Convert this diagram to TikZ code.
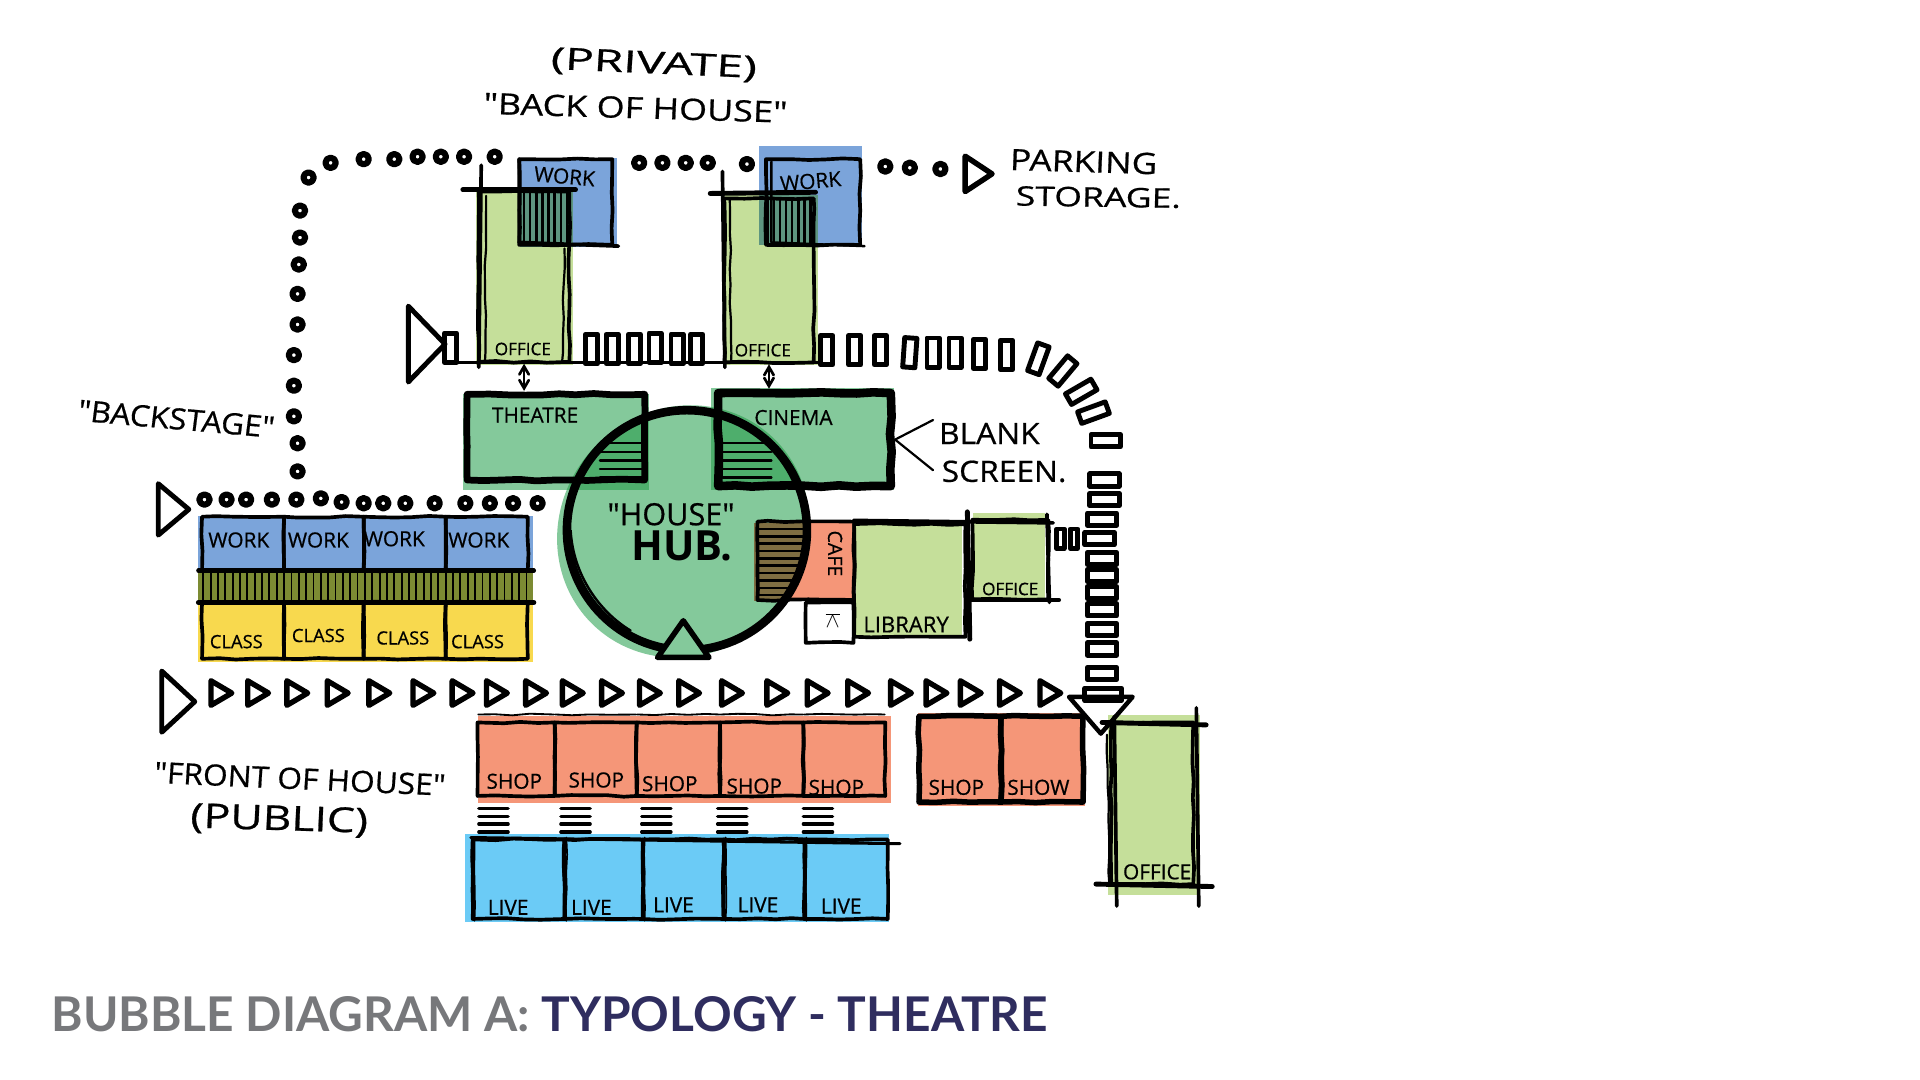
\documentclass[tikz,border=0pt]{standalone}
\usepackage{fontspec}
\setmainfont{Open Sans}
\newfontfamily\handfont[FakeBold=0.6]{Open Sans}
\newfontfamily\titlefont{Lato}
\usetikzlibrary{arrows,shapes.geometric,decorations.pathmorphing}
\definecolor{workblue}{HTML}{7BA4DA}
\definecolor{officegreen}{HTML}{C5DF9A}
\definecolor{hubgreen}{HTML}{84C99B}
\definecolor{hubdark}{HTML}{4EAE6C}
\definecolor{overlapgreen}{HTML}{5E9580}
\definecolor{shoporange}{HTML}{F59678}
\definecolor{classyellow}{HTML}{F8D94E}
\definecolor{liveblue}{HTML}{6BCBF6}
\definecolor{bandolive}{HTML}{7C8B33}
\definecolor{cafebrown}{HTML}{7F6E42}
\definecolor{titlegrey}{HTML}{77787B}
\definecolor{titlenavy}{HTML}{2F2D5F}
\begin{document}
\begin{tikzpicture}[x=1pt,y=-1pt,>=angle 60,line join=round,line cap=round]
	\pgfmathsetseed{7}
	\tikzstyle{sketch}=[decorate,decoration={random steps,segment length=14pt,amplitude=.7pt}]
	\tikzstyle{room}=[draw=black,rectangle,inner sep=0pt,line width=3pt,sketch]
	\tikzstyle{bigroom}=[room,line width=5.5pt]
	\tikzstyle{pathdot}=[draw=black,fill=white,circle,inner sep=0pt,minimum size=8.5pt,line width=5pt]
	\tikzstyle{pathtri}=[draw=black,isosceles triangle,isosceles triangle stretches,inner sep=0pt,minimum width=20pt,minimum height=17pt,line width=4.4pt]
	\tikzstyle{flowbox}=[draw=black,fill=white,rectangle,inner sep=0pt,minimum width=10pt,minimum height=24pt,line width=4pt]
	\tikzstyle{hand}=[inner sep=0pt,text=black,font=\handfont\fontsize{17}{17}\selectfont]
	\tikzstyle{note}=[hand,font=\handfont\fontsize{24}{24}\selectfont,xscale=1.2]
	\useasboundingbox (0,0) rectangle (1568,882);
	\fill[white] (0,0) rectangle (1568,882);
	% colour washes
	\fill[officegreen] (389,155) rectangle (468,298);
	\fill[officegreen] (592,159) rectangle (668,298);
	\fill[workblue] (425,129) rectangle (504,202);
	\fill[workblue] (620,119) rectangle (704,200);
	\fill[overlapgreen] (425,155) rectangle (468,202);
	\fill[overlapgreen] (620,159) rectangle (668,200);
	\fill[hubgreen] (378,322) rectangle (530,400);
	\fill[hubgreen] (581,317) rectangle (730,400);
	\fill[shoporange] (616,427) rectangle (697,491);
	\fill[hubgreen,rotate around={45:(558,434)}] (558,434) ellipse (106 and 100);
	\begin{scope}
		\clip[rotate around={45:(558,434)}] (558,434) ellipse (106 and 100);
		\fill[hubdark] (378,322) rectangle (530,400);
		\fill[hubdark] (581,317) rectangle (730,400);
		\fill[cafebrown] (616,427) rectangle (697,491);
	\end{scope}
	\fill[officegreen] (699,427) rectangle (786,520);
	\fill[officegreen] (795,419) rectangle (853,491);
	\fill[officegreen] (905,584) rectangle (980,731);
	\fill[workblue] (162,421) rectangle (435,466);
	\fill[bandolive] (162,466) rectangle (435,492);
	\fill[classyellow] (162,492) rectangle (435,541);
	\fill[shoporange] (390,585) rectangle (728,656);
	\fill[shoporange] (750,582) rectangle (886,658);
	\fill[liveblue] (380,681) rectangle (726,753);
	% hatching under the overlaps
	\begin{scope}
		\clip (561,433) ellipse (100 and 97);
		\foreach \y in {362,369,...,394} {
			\draw[line width=2pt] (490,\y) -- (527,\y);
			\draw[line width=2pt] (590,\y) -- (630,\y);
		}
		\foreach \y in {432,438,...,488}
			\draw[line width=2pt] (620,\y) -- (656,\y);
	\end{scope}
	\foreach \x in {428,433,...,466} \draw[line width=2pt] (\x,157) -- (\x,200);
	\foreach \x in {627,632,...,664} \draw[line width=2pt] (\x,162) -- (\x,200);
	\foreach \x in {166,172,...,432} \draw[line width=1.5pt] (\x,468) -- (\x,491);
	% rooms
	\node[room,minimum width=76pt,minimum height=70pt] (work1) at (462,165) {};
	\node[room,minimum width=77pt,minimum height=70pt] (work2) at (664,165) {};
	\draw[line width=3pt] (424,130) -- (424,198) -- (505,201);
	\draw[line width=2pt] (630,132) -- (630,198) -- (706,201);
	\node[room,minimum width=74pt,minimum height=139pt] (office1) at (428,226) {};
	\node[room,minimum width=73pt,minimum height=134pt] (office2) at (628,229) {};
	\draw[line width=4pt] (378,155) -- (470,155);
	\draw[line width=3pt] (393,135) -- (391,300);
	\draw[line width=1.8pt,sketch] (397,160) -- (396,296);
	\draw[line width=1.8pt,sketch] (461,203) -- (459,296);
	\draw[line width=4pt] (580,158) -- (666,157);
	\draw[line width=3pt] (590,140) -- (592,300);
	\draw[line width=1.8pt,sketch] (596,163) -- (597,296);
	\draw[line width=3pt] (370,296) -- (670,296);
	\node[bigroom,minimum width=145pt,minimum height=70pt] (theatre) at (454,357) {};
	\node[bigroom,line width=7pt,minimum width=141pt,minimum height=76pt] (cinema) at (657,359) {};
	\node[draw=black,circle,inner sep=0pt,line width=7pt,minimum size=196pt] (hub) at (561,433) {};
	\draw[line width=2pt] (466,433) .. controls (468,470) and (490,500) .. (515,515);
	\node[draw=black,fill=hubgreen,isosceles triangle,isosceles triangle stretches,shape border rotate=90,inner sep=0pt,minimum width=42pt,minimum height=30pt,line width=4.5pt] (hubtri) at (558,526) {};
	\node[room,minimum width=79pt,minimum height=64pt] (cafe) at (658,458) {};
	\node[room,minimum width=39pt,minimum height=33pt] (lift) at (677.5,508.5) {};
	\node[room,minimum width=91pt,minimum height=92pt] (library) at (743,474) {};
	\node[room,minimum width=62pt,minimum height=65pt] (officeS) at (825,457) {};
	\draw[line width=3pt] (697,425) -- (860,427);
	\draw[line width=4pt] (790,418) -- (792,522);
	\draw[line width=3pt] (790,490) -- (865,490);
	\draw[line width=3pt] (855,420) -- (857,492);
	\node[room,minimum width=67pt,minimum height=132pt] (officeE) at (941,656) {};
	\draw[line width=4pt] (900,590) -- (985,592);
	\draw[line width=4pt] (895,722) -- (990,724);
	\draw[line width=3pt] (910,585) -- (912,740);
	\draw[line width=3pt] (977,578) -- (979,740);
	\draw[line width=1.8pt,sketch] (904,600) -- (906,722);
	\foreach \i/\x/\w in {1/198.5/67,2/264.5/65,3/330.5/67,4/397.5/67} {
		\node[room,minimum width=\w pt,minimum height=44pt] (upper\i) at (\x,444) {};
		\node[room,minimum width=\w pt,minimum height=46pt] (lower\i) at (\x,515) {};
	}
	\draw[line width=3.5pt] (162,466) -- (436,466);
	\draw[line width=4pt] (162,492) -- (436,492);
	\foreach \i/\x/\w in {1/421.5/63,2/486.5/67,3/554/68,4/622/68,5/689.5/67} {
		\node[room,minimum width=\w pt,minimum height=60pt] (shop\i) at (\x,620) {};
		\draw[line width=1.5pt,sketch] ([shift={(2,-5)}]shop\i.north west) -- ([shift={(-2,-5)}]shop\i.north east);
	}
	\node[bigroom,line width=4.5pt,minimum width=67pt,minimum height=70pt] (shop6) at (784,620) {};
	\node[bigroom,line width=4.5pt,minimum width=67pt,minimum height=70pt] (shop7) at (851,620) {};
	\foreach \i/\x/\w in {1/423.5/75,2/493/64,3/558/66,4/624/66,5/691/68} {
		\node[room,minimum width=\w pt,minimum height=65pt] (live\i) at (\x,718) {};
		\draw[line width=1.4pt,sketch] ([shift={(3,0)}]live\i.north west) -- ([shift={(3,0)}]live\i.south west);
	}
	\draw[line width=2.5pt] (live1.north west) -- (735,689);
	% stairs between shop and live
	\foreach \x in {403,470,536,598,668}
		\foreach \y in {660,666.5,673,679.5}
			\draw[line width=2.6pt] (\x-12,\y) -- (\x+12,\y);
	% links
	\draw[<->,line width=2.2pt] (office1.south) -- (office1.south |- theatre.north);
	\draw[<->,line width=2.2pt] (office2.south) -- (office2.south |- cinema.north);
	\coordinate (blanktip) at (762,343);
	\coordinate (screentip) at (762,384);
	\draw[line width=1.8pt] (cinema.east) -- (blanktip);
	\draw[line width=1.8pt] (cinema.east) -- (screentip);
	% private route
	\foreach \x/\y [count=\i] in {252/145,270/133,297/130,322/130,341/128,360/128,379/128,404/128,522/133,541/133,560/133,578/133,610/134,723/136,743/137,768/138,245/172,245/194,244/216,243/240,243/265,240/290,240/315,240/340,243/362,243/385,167/408,185/408,201/408,222/408,242/408,262/407,279/410,297/411,313/411,331/411,355/411,380/411,400/411,419/411,439/411}
		\node[pathdot] (dot\i) at (\x,\y) {};
	\node[pathtri,minimum width=29pt,minimum height=22pt] (parking) at (796,142) {};
	\node[pathtri,line width=4pt,minimum width=42pt,minimum height=25pt] (backstage) at (139,416) {};
	% staff route
	\foreach \x/\y/\a [count=\i] in {368/284/0,483/285/0,500/285/0,518/285/0,535/284/0,553/285/0,569/285/0,675/286/0,698/286/0,719/286/0,743/288/-4,762/288/0,780/288/0,800/289/0,822/290/0,848/293/-20,868/303/-40,883/320/-60,893/337/-70,903/360/-90,902/392/-90,902/408/-90,900/424/-90,898/440/-90,900/456/-90,900/470/-90,900/484/-90,900/498/-90,900/514/-90,900/530/-90,900/550/-90}
		\node[flowbox,rotate=\a] (flow\i) at (\x,\y) {};
	\node[flowbox,minimum width=6pt,minimum height=16pt] (stub1) at (866,440) {};
	\node[flowbox,minimum width=6pt,minimum height=16pt] (stub2) at (877,440) {};
	\node[pathtri,line width=4pt,fill=white,minimum width=62pt,minimum height=30pt] (staffdoor) at (346,281) {};
	\node[flowbox,minimum width=30pt,minimum height=10pt] (flowend) at (901,567) {};
	% public route
	\foreach \x [count=\i] in {178,208,240,273,307,343,375,403,435,465,497,528,560,595,632,665,698,733,762,790,822,855}
		\node[pathtri] (tri\i) at (\x,566) {};
	\node[pathtri,line width=4pt,minimum width=50pt,minimum height=27pt] (foyer) at (143,573) {};
	\node[draw=black,isosceles triangle,isosceles triangle stretches,shape border rotate=-90,inner sep=0pt,minimum width=52pt,minimum height=30pt,line width=3.6pt] (arrival) at (899,581) {};
	% texts
	\node[note,rotate=-3,font=\handfont\fontsize{25}{25}\selectfont,xscale=1.3] (privatelabel) at (534,53) {(PRIVATE)};
	\node[note,rotate=-2,xscale=1.02] (backlabel) at (519,88) {"BACK OF HOUSE"};
	\node[note,rotate=-2,xscale=1] (parkinglabel) at (885,132) {PARKING};
	\node[note,rotate=-1,xscale=1.1,font=\handfont\fontsize{22}{22}\selectfont] (storagelabel) at (897,161) {STORAGE.};
	\node[note,rotate=-6,xscale=.9] (backstagelabel) at (144,342) {"BACKSTAGE"};
	\node[note,xscale=.9] (blanklabel) at (808,354) {BLANK};
	\node[note,xscale=.9] (screenlabel) at (820,385) {SCREEN.};
	\node[note,rotate=-3,xscale=.9] (frontlabel) at (245,636) {"FRONT OF HOUSE"};
	\node[note,rotate=-2,font=\handfont\fontsize{28}{28}\selectfont,xscale=1.08] (publiclabel) at (228,670) {(PUBLIC)};
	\node[hand,font=\handfont\fontsize{25}{25}\selectfont] (houselabel) at (548,420) {"HOUSE"};
	\node[hand,font=\bfseries\fontsize{34}{34}\selectfont] (hublabel) at (557,446) {HUB.};
	\node[hand,rotate=-5] at (461,144) (worktext1) {WORK};
	\node[hand,rotate=5] at (662,148) (worktext2) {WORK};
	\node[hand] (theatretext) at (437,339) {THEATRE};
	\node[hand] (cinematext) at (648,341) {CINEMA};
	\node[hand,font=\handfont\fontsize{14}{14}\selectfont] (officetext1) at (427,285) {OFFICE};
	\node[hand,font=\handfont\fontsize{14}{14}\selectfont] (officetext2) at (623,286) {OFFICE};
	\node[hand,font=\handfont\fontsize{14}{14}\selectfont] (officetext3) at (825,481) {OFFICE};
	\node[hand,font=\handfont\fontsize{17}{17}\selectfont] (officetext4) at (945,712) {OFFICE};
	\node[hand,rotate=-90,font=\handfont\fontsize{16}{16}\selectfont] (cafetext) at (682,452) {CAFE};
	\node[hand,font=\handfont\fontsize{18}{18}\selectfont] (librarytext) at (740,510) {LIBRARY};
	\node[hand] (lifttext) at (680,507) {$\overline{\wedge}$};
	\foreach \i/\x/\y in {1/195/441,2/260/441,3/322/440,4/391/441}
		\node[hand] (worklabel\i) at (\x,\y) {WORK};
	\foreach \i/\x/\y in {1/193/524,2/260/519,3/329/521,4/390/524}
		\node[hand,font=\handfont\fontsize{15}{15}\selectfont] (classlabel\i) at (\x,\y) {CLASS};
	\foreach \i/\x/\y in {1/420/638,2/487/637,3/547/640,4/616/642,5/683/643,6/781/643}
		\node[hand] (shoplabel\i) at (\x,\y) {SHOP};
	\node[hand] (showlabel) at (848,643) {SHOW};
	\foreach \i/\x/\y in {1/415/741,2/483/741,3/550/739,4/619/739,5/687/740}
		\node[hand] (livelabel\i) at (\x,\y) {LIVE};
	\node[anchor=west,inner sep=0pt,font=\titlefont\bfseries\fontsize{39.1}{39.1}\selectfont,text=titlegrey] (title) at (42,828) {BUBBLE DIAGRAM A: \textcolor{titlenavy}{TYPOLOGY - THEATRE}};
\end{tikzpicture}
\end{document}
